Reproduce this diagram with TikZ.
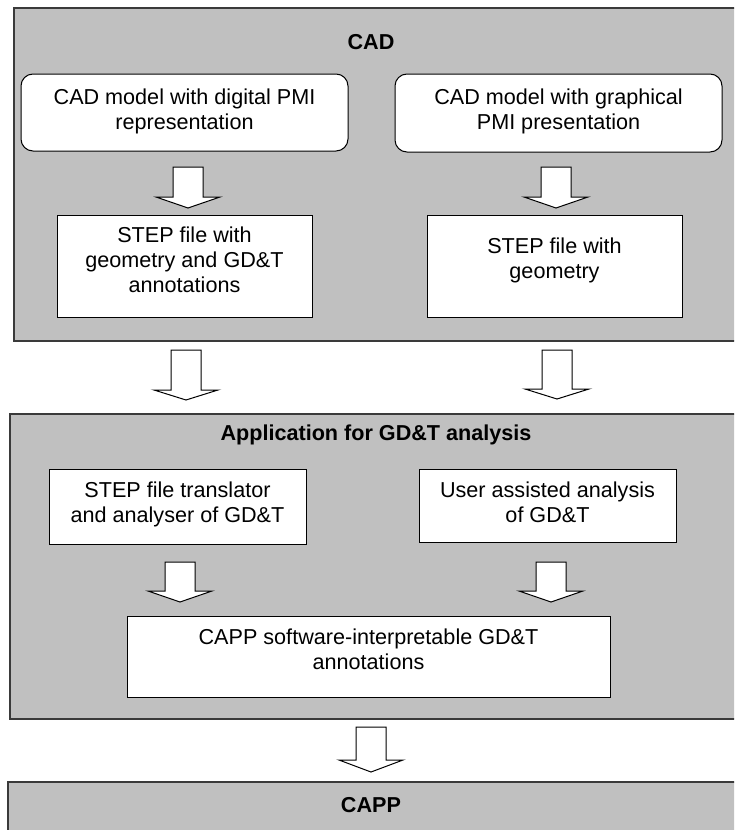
\documentclass[tikz,border=0pt]{standalone}
\usepackage{fontspec}
\setmainfont{Liberation Sans}
\definecolor{panelgray}{HTML}{C0C0C0}
\definecolor{panelline}{HTML}{3A3A3A}
\newcommand\blockarr[4]{% cx, top, head base, tip
  \draw[arrowshape] (#1-15,#2) -- (#1+15,#2) -- (#1+15,#3) -- (#1+32,#3) -- (#1,#4)
    -- (#1-32,#3) -- (#1-15,#3) -- cycle;}
\begin{document}
\begin{tikzpicture}[x=1pt,y=-1pt,
  font=\fontsize{21.6}{25}\selectfont,
  panel/.style={draw=panelline,line width=1.6pt,fill=panelgray},
  title/.style={font=\fontsize{21.6}{25}\selectfont\bfseries},
  stepbox/.style={draw=black,line width=1pt,fill=white,inner sep=0pt},
  roundbox/.style={stepbox,rounded corners=12pt},
  txt/.style={align=center,inner sep=0pt},
  arrowshape/.style={draw=black,line width=1pt,fill=white,line join=miter}]
\useasboundingbox (0,0) rectangle (734,830);
\clip (0,0) rectangle (734,830);
% panels
\node[panel,minimum width=740pt,minimum height=333pt,anchor=north west,inner sep=0pt] (cad) at (13,7) {};
\node[panel,minimum width=740pt,minimum height=305pt,anchor=north west,inner sep=0pt] (app) at (9,413) {};
\node[panel,minimum width=740pt,minimum height=80pt,anchor=north west,inner sep=0pt] (capp) at (7,781) {};
\node[title] (cadt) at (371,42) {CAD};
\node[title] (appt) at (376,435) {Application for GD\&T analysis};
\node[title] (cappt) at (371,805) {CAPP};
% CAD boxes
\node[roundbox,minimum width=327pt,minimum height=77pt] (r1) at (184.5,112.5) {};
\node[txt] (r1t) at (184.5,111.5) {CAD model with digital PMI\\representation};
\node[roundbox,minimum width=327pt,minimum height=78pt] (r2) at (558.5,113) {};
\node[txt] (r2t) at (558.5,111.5) {CAD model with graphical\\PMI presentation};
\node[stepbox,minimum width=255pt,minimum height=102pt] (s1) at (184.5,266) {};
\node[txt] (s1t) at (184.5,260) {STEP file with\\geometry and GD\&T\\annotations};
\node[stepbox,minimum width=255pt,minimum height=102pt] (s2) at (554.5,266) {};
\node[txt] (s2t) at (554.5,260.5) {STEP file with\\geometry};
% Application boxes
\node[stepbox,minimum width=257pt,minimum height=75pt] (tr) at (177.5,506.5) {};
\node[txt] (trt) at (177.5,504.5) {STEP file translator\\and analyser of GD\&T};
\node[stepbox,minimum width=257pt,minimum height=73pt] (us) at (547.5,505.5) {};
\node[txt] (ust) at (547.5,502.5) {User assisted analysis\\of GD\&T};
\node[stepbox,minimum width=483pt,minimum height=81pt] (cp) at (368.5,656.5) {};
\node[txt] (cpt) at (368.5,649.5) {CAPP software-interpretable GD\&T\\annotations};
% block arrows
\blockarr{188}{167}{197}{208}
\blockarr{556}{167}{197}{208}
\blockarr{186}{350}{390}{400}
\blockarr{557}{350}{389}{399}
\blockarr{180}{562}{591}{602}
\blockarr{551}{562}{591}{602}
\blockarr{371}{727}{760}{772}
\end{tikzpicture}
\end{document}
